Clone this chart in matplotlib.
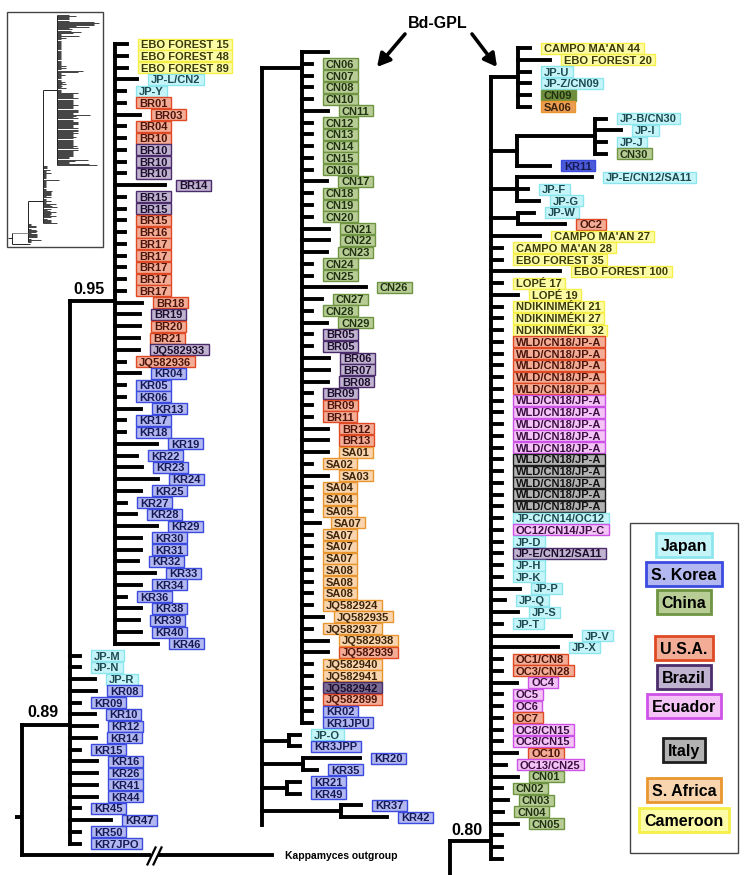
import numpy as np
import matplotlib.pyplot as plt
from matplotlib.patches import Rectangle

plt.rcParams['font.family'] = ['Liberation Sans', 'DejaVu Sans']

# country codes -> legend name and colours
legend_codes = ['JP', 'KR', 'CN', 'US', 'BR', 'EC', 'IT', 'SA', 'CM']
legend_names = ['Japan', 'S. Korea', 'China', 'U.S.A.', 'Brazil', 'Ecuador', 'Italy', 'S. Africa', 'Cameroon']
face = {'JP': '#c6f5f9', 'KR': '#b3b8f0', 'CN': '#b8cc96', 'US': '#f3ad97', 'BR': '#c0b3d0',
        'EC': '#f3c4f5', 'IT': '#b2b2b2', 'SA': '#f8d5ae', 'CM': '#fdfca6'}
edge = {'JP': '#8de6ee', 'KR': '#3b4be0', 'CN': '#6f9442', 'US': '#df4a25', 'BR': '#4b2c6b',
        'EC': '#cf52e8', 'IT': '#1e1e1e', 'SA': '#ea962f', 'CM': '#f5ef48'}
ink = {'JP': '#1d4950', 'KR': '#151a55', 'CN': '#1f3312', 'US': '#4a140a', 'BR': '#1b0d2b',
       'EC': '#3b0d42', 'IT': '#111111', 'SA': '#3b240a', 'CM': '#3a3a0a'}
dark_face = {'CN': '#6f8d3d', 'SA': '#ea9c55', 'KR': '#4d5ad8', 'BR': '#7a6b94'}
dark_labels = ['CN09', 'SA06', 'KR11', 'JQ582942']

# ---- left column: main clade, JP/KR group, outgroup ----
left_labels = ['EBO FOREST 15', 'EBO FOREST 48', 'EBO FOREST 89', 'JP-L/CN2', 'JP-Y', 'BR01', 'BR03', 'BR04',
               'BR10', 'BR10', 'BR10', 'BR10', 'BR14', 'BR15', 'BR15', 'BR15', 'BR16',
               'BR17', 'BR17', 'BR17', 'BR17', 'BR17', 'BR18', 'BR19', 'BR20', 'BR21', 'JQ582933', 'JQ582936',
               'KR04', 'KR05', 'KR06', 'KR13', 'KR17', 'KR18', 'KR19', 'KR22', 'KR23', 'KR24', 'KR25', 'KR27',
               'KR28', 'KR29', 'KR30', 'KR31', 'KR32', 'KR33', 'KR34', 'KR36', 'KR38', 'KR39', 'KR40', 'KR46',
               'JP-M', 'JP-N', 'JP-R', 'KR08', 'KR09', 'KR10', 'KR12', 'KR14', 'KR15', 'KR16', 'KR26', 'KR41',
               'KR44', 'KR45', 'KR47', 'KR50', 'KR7JPO',
               'Kappamyces outgroup']
left_codes = ['CM'] * 3 + ['JP'] * 2 + ['US'] * 4 + ['BR'] * 6 + ['US'] * 8 + ['BR', 'US', 'US', 'BR', 'US'] \
    + ['KR'] * 24 + ['JP'] * 3 + ['KR'] * 14 + [None]
left_len = [12, 12, 12, 22, 10, 10, 25, 10, 10, 10, 10, 10, 50, 10, 10, 10, 10, 10, 10, 10, 10, 10,
            27, 25, 25, 24, 24, 10,
            25, 10, 10, 26, 10, 10, 42, 22, 27, 43, 26, 11, 21, 42, 26, 26, 23, 40, 26, 11, 26, 24, 26, 43,
            10, 10, 25, 26, 10, 25, 27, 26, 10, 27, 27, 27, 27, 10, 41, 10, 10,
            250]
# clades: (first row, last row, stem length, attach row or None)
left_clades = [(0, 68, 48, 57.9), (0, 51, 45, 21.85)]

# ---- middle column ----
mid_labels = [None, 'CN06', 'CN07', 'CN08', 'CN10', 'CN11', 'CN12', 'CN13', 'CN14', 'CN15', 'CN16', 'CN17',
              'CN18', 'CN19', 'CN20', 'CN21', 'CN22', 'CN23', 'CN24', 'CN25', 'CN26', 'CN27', 'CN28', 'CN29',
              'BR05', 'BR05', 'BR06', 'BR07', 'BR08', 'BR09', 'BR09', 'BR11', 'BR12', 'BR13',
              'SA01', 'SA02', 'SA03', 'SA04', 'SA04', 'SA05', 'SA07', 'SA07', 'SA07', 'SA07', 'SA08', 'SA08', 'SA08',
              'JQ582924', 'JQ582935', 'JQ582937', 'JQ582938', 'JQ582939', 'JQ582940', 'JQ582941', 'JQ582942',
              'JQ582899', 'KR02', 'KR1JPU',
              'JP-O', 'KR3JPP', 'KR20', 'KR35', 'KR21', 'KR49', 'KR37', 'KR42']
mid_codes = [None] + ['CN'] * 23 + ['BR'] * 6 + ['US'] * 4 + ['SA'] * 17 + ['US', 'SA', 'SA', 'BR', 'US', 'KR', 'KR'] \
    + ['JP'] + ['KR'] * 7
mid_len = [26, 10, 10, 10, 10, 26, 10, 10, 10, 10, 10, 25, 10, 10, 10, 27, 27, 25, 10, 10, 64, 20, 10, 25,
           10, 10, 27, 27, 26, 10, 10, 10, 26, 26,
           26, 10, 26, 10, 10, 10, 18, 10, 10, 10, 10, 10, 10,
           10, 21, 10, 26, 26, 10, 10, 10, 10, 10, 10,
           11, 11, 57, 14, 13, 13, 20, 46]
mid_clades = [(0, 57, 40, 1.4), (58, 59, 27, None), (60, 61, 41, None), (62, 63, 25, None), (64, 65, 79, None)]

# ---- right column ----
right_labels = ["CAMPO MA'AN 44", 'EBO FOREST 20', 'JP-U', 'JP-Z/CN09', 'CN09', 'SA06',
                'JP-B/CN30', 'JP-I', 'JP-J', 'CN30', 'KR11', 'JP-E/CN12/SA11', 'JP-F', 'JP-G', 'JP-W', 'OC2',
                "CAMPO MA'AN 27", "CAMPO MA'AN 28", 'EBO FOREST 35', 'EBO FOREST 100', 'LOPÉ 17', 'LOPÉ 19',
                'NDIKINIMÉKI 21', 'NDIKINIMÉKI 27', 'NDIKINIMÉKI  32'] + ['WLD/CN18/JP-A'] * 15 \
    + ['JP-C/CN14/OC12', 'OC12/CN14/JP-C', 'JP-D', 'JP-E/CN12/SA11', 'JP-H', 'JP-K', 'JP-P', 'JP-Q', 'JP-S',
       'JP-T', 'JP-V', 'JP-X', 'OC1/CN8', 'OC3/CN28', 'OC4', 'OC5', 'OC6', 'OC7', 'OC8/CN15', 'OC8/CN15',
       'OC10', 'OC13/CN25', 'CN01', 'CN02', 'CN03', 'CN04', 'CN05', None, None, None]
right_codes = ['CM', 'CM', 'JP', 'JP', 'CN', 'SA', 'JP', 'JP', 'JP', 'CN', 'KR', 'JP', 'JP', 'JP', 'JP', 'US'] \
    + ['CM'] * 9 + ['US'] * 5 + ['EC'] * 5 + ['IT'] * 5 \
    + ['JP', 'EC', 'JP', 'BR'] + ['JP'] * 8 + ['US', 'US', 'EC', 'EC', 'EC', 'US', 'EC', 'EC', 'US', 'EC'] \
    + ['CN'] * 5 + [None] * 3
right_len = [12, 32, 12, 12, 12, 12, 11, 26, 11, 11, 33, 75, 11, 22, 16, 47,
             49, 11, 11, 69, 11, 27, 11, 11, 11] + [11] * 15 \
    + [11, 11, 11, 11, 11, 11, 29, 14, 27, 11, 80, 67, 11, 11, 26, 11, 11, 11, 11, 11, 26, 15,
       27, 11, 17, 12, 27, 11, 11, 11]
right_clades = [(0, 69, 41, 67.5), (0, 5, 27, None), (6, 10, 26, None), (6, 9, 78, None),
                (11, 13, 26, None), (14, 15, 27, None)]

support = ['0.95', '0.89', '0.80']

fig = plt.figure(figsize=(7.5, 8.75), dpi=100)
ax = fig.add_axes([0, 0, 1, 1])
ax.set_xlim(0, 750)
ax.set_ylim(875, 0)
ax.axis('off')

LW = 2.8
boxed = []  # text, centre y, code


def seg(x0, y0, x1, y1, lw=LW, color='k', cap='projecting', z=2):
    ax.plot([x0, x1], [y0, y1], color=color, lw=lw, solid_capstyle=cap, zorder=z)


def draw_tree(x_root, y0, dy, labels, codes, lengths, clades, ext=()):
    n = len(labels)
    ys = y0 + dy * np.arange(n)
    spans = [(0, n - 1, 0, None)] + list(clades)
    size = lambda k: np.inf if k == 0 else spans[k][1] - spans[k][0]

    def parent(a, b, me):
        c = [k for k in range(1, len(spans)) if k != me and spans[k][0] <= a and b <= spans[k][1]
             and (me is None or size(k) > size(me))]
        return min(c, key=size) if c else 0

    tip_par = [parent(r, r, None) for r in range(n)]
    cl_par = {k: parent(spans[k][0], spans[k][1], k) for k in range(1, len(spans))}
    xs = {0: x_root}
    for k in sorted(cl_par, key=size, reverse=True):
        xs[k] = xs[cl_par[k]] + spans[k][2]
    ya, kids = {}, {}
    for k in sorted(range(len(spans)), key=size):
        kys = [ys[r] for r in range(n) if tip_par[r] == k] + [ya[c] for c in cl_par if cl_par[c] == k]
        kids[k] = kys
        att = spans[k][3]
        ya[k] = y0 + dy * att if att is not None else (min(kys) + max(kys)) / 2
    for k in range(len(spans)):
        kys = kids[k] + (list(ext) if k == 0 else [])
        seg(xs[k], min(kys), xs[k], max(kys))
        if k > 0:
            seg(xs[cl_par[k]], ya[k], xs[k], ya[k])
    ends = []
    for r in range(n):
        x0 = xs[tip_par[r]]
        x1 = x0 + lengths[r]
        ends.append(x1)
        seg(x0, ys[r], x1, ys[r])
        if labels[r] is None:
            continue
        if codes[r] is None:
            ax.text(x1 + 13, ys[r] + 3.5, labels[r], fontsize=7.5, fontweight='bold', va='baseline', zorder=3)
        else:
            t = ax.text(x1 + 14, ys[r] + 4.0, labels[r], fontsize=8, fontweight='bold', va='baseline',
                        color=ink[codes[r]], zorder=4)
            boxed.append((t, ys[r], codes[r], labels[r] in dark_labels))
    return xs, ya, np.array(ends)


lx, ly, lend = draw_tree(22, 44, 11.76, left_labels, left_codes, left_len, left_clades)
mx, my, mend = draw_tree(262, 52, 11.77, mid_labels, mid_codes, mid_len, mid_clades, ext=[825])
rx, ry, rend = draw_tree(450, 48, 11.75, right_labels, right_codes, right_len, right_clades, ext=[875])

# root stub and break marks on the outgroup branch
seg(15, 44 + 11.76 * 65.7, 22, 44 + 11.76 * 65.7, cap='butt')
yo = 44 + 11.76 * 69
seg(151, yo, 158, yo, lw=4.5, color='white', cap='butt', z=3)
seg(147, yo + 10, 156, yo - 9, lw=1.6, cap='butt', z=4)
seg(153, yo + 10, 162, yo - 9, lw=1.6, cap='butt', z=4)

# support values
ax.text(lx[2] - 10, ly[2] - 7, support[0], fontsize=11.5, fontweight='bold', ha='right', va='baseline')
ax.text(lx[1] - 12, ly[1] - 8, support[1], fontsize=11.5, fontweight='bold', ha='right', va='baseline')
ax.text(rx[1] - 8, ry[1] - 6, support[2], fontsize=11.5, fontweight='bold', ha='right', va='baseline')

# Bd-GPL label and arrows
ax.text(438, 28, 'Bd-GPL', fontsize=11.5, fontweight='bold', ha='center', va='baseline')
for a, b in [((405, 34), (377, 67)), ((472, 34), (497, 67))]:
    ax.annotate('', xy=b, xytext=a,
                arrowprops=dict(arrowstyle='-|>,head_length=0.55,head_width=0.3', lw=2.6, color='k',
                                shrinkA=0, shrinkB=0, mutation_scale=14))

# legend
ax.add_patch(Rectangle((630, 523), 108, 330, fill=False, ec='#444444', lw=1.0, zorder=1))
legend_y = [545, 574, 602, 648, 677, 706, 750, 790, 820]
leg = []
for code, name, y in zip(legend_codes, legend_names, legend_y):
    t = ax.text(684, y + 6, name, fontsize=11.5, fontweight='bold', ha='center', va='baseline', zorder=4)
    leg.append((t, y, code))

# inset: miniature of the whole tree
ax.add_patch(Rectangle((7, 12), 96, 235, fill=False, ec='#444444', lw=1.0, zorder=1))
groups = [np.r_[rend - rx[1], mend - mx[0]], lend[:52] - lx[2], lend[52:69] - lx[1]]
gx = [57, 43, 28]
step = 228 / sum(len(g) for g in groups)
i0 = 0
mids = []
for g, x in zip(groups, gx):
    yy = 15 + step * (i0 + np.arange(len(g)))
    ax.hlines(yy, x, x + 0.32 * g, color='#222222', lw=0.6)
    mids.append((yy.min(), yy.max()))
    i0 += len(g)
ya_ = (mids[0][0] + mids[0][1]) / 2
ax.vlines(57, mids[0][0], mids[0][1], color='#222222', lw=0.7)
ax.hlines(ya_, 43, 57, color='#222222', lw=0.7)
ax.vlines(43, ya_, mids[1][1], color='#222222', lw=0.7)
yb_ = (mids[1][0] + mids[1][1]) / 2 + 6
ax.hlines(yb_, 28, 43, color='#222222', lw=0.7)
ax.vlines(28, yb_, mids[2][1], color='#222222', lw=0.7)
yc_ = (mids[2][0] + mids[2][1]) / 2
ax.hlines(yc_, 12, 28, color='#888888', lw=0.7)
ax.vlines(12, yc_, 244, color='#222222', lw=0.7)
ax.hlines(244, 12, 30, color='#222222', lw=0.7)
ax.hlines(238, 8, 12, color='#222222', lw=0.7)

# boxes behind labels, sized from the rendered text
fig.canvas.draw()
renderer = fig.canvas.get_renderer()
inv = ax.transData.inverted()
for t, y, code, dark in boxed:
    bb = t.get_window_extent(renderer).transformed(inv)
    fc = dark_face[code] if dark else face[code]
    ax.add_patch(Rectangle((bb.x0 - 3.5, y - 5.5), bb.x1 - bb.x0 + 7, 11, fc=fc, ec=edge[code], lw=1.0, zorder=3))
for t, y, code in leg:
    bb = t.get_window_extent(renderer).transformed(inv)
    ax.add_patch(Rectangle((bb.x0 - 5, y - 12), bb.x1 - bb.x0 + 10, 24, fc=face[code], ec=edge[code], lw=2.0,
                           zorder=3))

fig.savefig('out.png', dpi=100)
